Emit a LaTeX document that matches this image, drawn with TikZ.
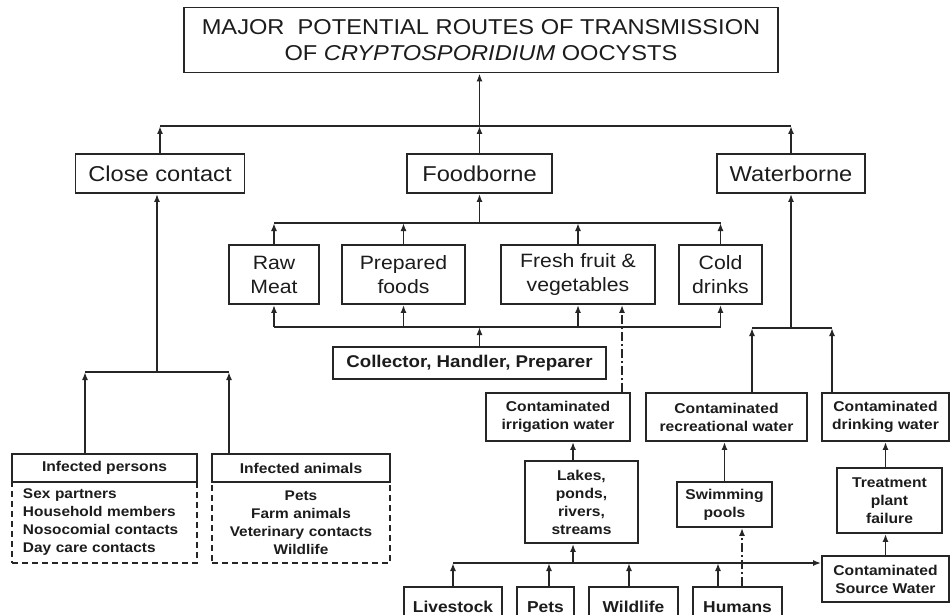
\documentclass[tikz,border=0pt]{standalone}
\usepackage{fontspec}
\setmainfont{Liberation Sans}[FakeStretch=1.1]
\usetikzlibrary{arrows.meta,calc}
\definecolor{ln}{HTML}{262626}
\definecolor{txt}{HTML}{1C1C1C}
\begin{document}
\begin{tikzpicture}[x=1pt,y=-1pt,
  box/.style={draw=ln, line width=1.9pt, rectangle, inner sep=0pt, align=center, text=txt, fill=white},
  arr/.style={-{Latex[length=8pt,width=6pt]}, draw=ln, line width=1.9pt},
  ln/.style={draw=ln, line width=1.9pt},
  dashdot/.style={dash pattern=on 9pt off 3pt on 2pt off 3pt},
  listbox/.style={draw=ln, line width=1.6pt, dash pattern=on 6pt off 4pt, rectangle, inner ysep=0pt, inner xsep=11pt, text=txt, font=\bfseries\fontsize{14}{18}\selectfont},
  fbig/.style={font=\fontsize{21.5}{26}\selectfont},
  fmid/.style={font=\fontsize{19.3}{24}\selectfont},
  fcol/.style={font=\bfseries\fontsize{17}{20}\selectfont},
  fsm/.style={font=\bfseries\fontsize{14.2}{18}\selectfont},
  fbot/.style={font=\bfseries\fontsize{15.8}{18}\selectfont}
]
\useasboundingbox (0,0) rectangle (951,615);
\clip (0,0) rectangle (951,615);
\fill[white] (0,0) rectangle (951,615);

% ---- title and level 1
\node[box, fbig, minimum width=594pt, minimum height=65pt] (title) at (481,40)
  {MAJOR\ \ POTENTIAL ROUTES OF TRANSMISSION\\OF \textit{CRYPTOSPORIDIUM} OOCYSTS};
\node[box, fbig, minimum width=169pt, minimum height=39pt] (close) at (160,173.5) {Close contact};
\node[box, fbig, minimum width=145pt, minimum height=39pt] (food) at (479.5,173.5) {Foodborne};
\node[box, fbig, minimum width=148pt, minimum height=39pt] (water) at (791,173.5) {Waterborne};

\coordinate (tb) at (0,126);
\draw[ln] (close.north |- tb) -- (water.north |- tb);
\draw[arr] (close.north) -- (close.north |- tb);
\draw[arr] (food.north) -- (food.north |- tb);
\draw[arr] (water.north) -- (water.north |- tb);
\draw[arr] (food.north |- tb) -- (title.south -| food.north);

% ---- foodborne
\node[box, fmid, minimum width=90pt, minimum height=59pt] (raw) at (274,274.5) {Raw\\Meat};
\node[box, fmid, minimum width=123pt, minimum height=59pt] (prep) at (403.5,274.5) {Prepared\\foods};
\node[box, fmid, minimum width=154pt, minimum height=59pt] (fresh) at (578,274.5) {Fresh fruit \&\\vegetables};
\node[box, fmid, minimum width=83pt, minimum height=59pt] (cold) at (720.5,274.5) {Cold\\drinks};
\node[box, fcol, minimum width=273pt, minimum height=32pt] (coll) at (469.5,363) {Collector, Handler, Preparer};

\coordinate (fb1) at (0,223);
\coordinate (fb2) at (0,327);
\draw[ln] (raw.north |- fb1) -- (cold.north |- fb1);
\foreach \n in {raw,prep,fresh,cold} {\draw[arr] (\n.north) -- (\n.north |- fb1);}
\draw[arr] (food.south |- fb1) -- (food.south);
\draw[ln] (raw.south |- fb2) -- (cold.south |- fb2);
\foreach \n in {raw,prep,fresh,cold} {\draw[arr] (\n.south |- fb2) -- (\n.south);}
\draw[arr] (coll.north -| food.south) -- (food.south |- fb2);

% ---- waterborne
\node[box, fsm, minimum width=144pt, minimum height=48pt] (irr) at (558,417) {Contaminated\\irrigation water};
\node[box, fsm, minimum width=161pt, minimum height=48pt] (rec) at (726.5,417) {Contaminated\\recreational water};
\node[box, fsm, minimum width=127pt, minimum height=48pt] (drink) at (885.5,417) {Contaminated\\drinking water};
\node[box, fsm, minimum width=113pt, minimum height=82pt] (lakes) at (581.5,502) {Lakes,\\ponds,\\rivers,\\streams};
\node[box, fsm, minimum width=95pt, minimum height=45pt] (swim) at (724.5,504.5) {Swimming\\pools};
\node[box, fsm, minimum width=105pt, minimum height=65pt] (treat) at (889.5,500.5) {Treatment\\plant\\failure};
\node[box, fsm, minimum width=127pt, minimum height=46pt] (source) at (885.5,579) {Contaminated\\Source Water};

\node[box, fbot, minimum width=98pt, minimum height=40pt] (live) at (453,607) {Livestock};
\node[box, fbot, minimum width=57pt, minimum height=40pt] (pets) at (545.5,607) {Pets};
\node[box, fbot, minimum width=89pt, minimum height=40pt] (wild) at (633.5,607) {Wildlife};
\node[box, fbot, minimum width=89pt, minimum height=40pt] (hum) at (737.5,607) {Humans};

\coordinate (wb) at (0,328);
\coordinate (recx) at (752,0);
\coordinate (drx) at (832,0);
\draw[ln] (recx |- wb) -- (drx |- wb);
\draw[arr] (water.south |- wb) -- (water.south);
\draw[arr] (rec.north -| recx) -- (recx |- wb);
\draw[arr] (drink.north -| drx) -- (drx |- wb);

\coordinate (ddx) at (622,0);
\draw[arr, dashdot] (irr.north -| ddx) -- (fresh.south -| ddx);

\coordinate (lx) at (573,0);
\draw[arr] (lakes.north -| lx) -- (irr.south -| lx);
\draw[arr] (swim.north) -- (rec.south -| swim.north);
\draw[arr] (treat.north -| drink.south) -- (drink.south);
\draw[arr] (source.north) -- (treat.south -| source.north);

\coordinate (bb) at (0,563);
\coordinate (hx1) at (718,0);
\coordinate (hx2) at (742,0);
\coordinate (px2) at (549,0);
\coordinate (wx) at (629,0);
\draw[arr] (live.north |- bb) -- (source.west |- bb);
\draw[arr] (live.north) -- (live.north |- bb);
\draw[arr] (pets.north -| px2) -- (px2 |- bb);
\draw[arr] (wild.north -| wx) -- (wx |- bb);
\draw[arr] (hum.north -| hx1) -- (hx1 |- bb);
\draw[arr] (lx |- bb) -- (lakes.south -| lx);
\draw[arr, dashdot] (hum.north -| hx2) -- (swim.south -| hx2);

% ---- close contact
\node[listbox, minimum width=185pt, minimum height=81pt, text width=163pt, align=left] (plist) at (104.5,522.5)
  {Sex partners\\Household members\\Nosocomial contacts\\Day care contacts};
\node[listbox, minimum width=178pt, minimum height=81pt, text width=156pt, align=center] (alist) at (301,522.5)
  {Pets\\Farm animals\\Veterinary contacts\\Wildlife};
\node[box, fsm, minimum width=185pt, minimum height=28pt] (pers) at (104.5,468) {Infected persons};
\node[box, fsm, minimum width=178pt, minimum height=28pt] (anim) at (301,468) {Infected animals};

\coordinate (cb) at (157,372);
\coordinate (px) at (85,0);
\coordinate (ax) at (229,0);
\draw[ln] (px |- cb) -- (ax |- cb);
\draw[arr] (pers.north -| px) -- (px |- cb);
\draw[arr] (anim.north -| ax) -- (ax |- cb);
\draw[arr] (cb) -- (close.south -| cb);
\end{tikzpicture}
\end{document}
